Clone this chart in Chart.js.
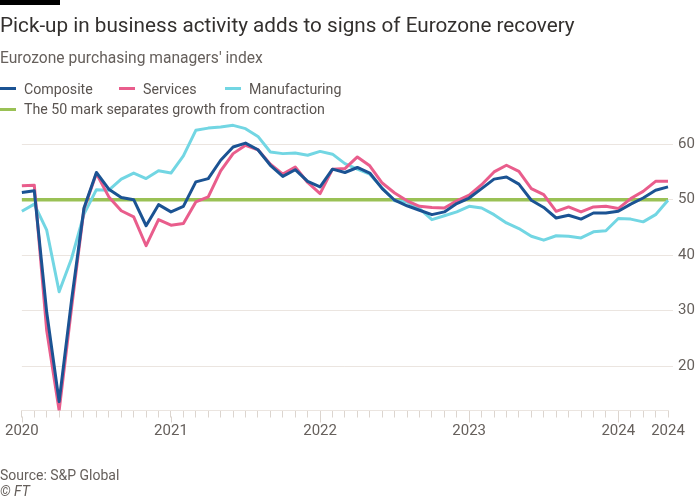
<!DOCTYPE html>
<html>
<head>
<meta charset="utf-8">
<script src="https://cdn.jsdelivr.net/npm/chart.js@4"></script>
<style>
  html, body { margin: 0; padding: 0; background: #fff; }
  body { width: 700px; height: 500px; position: relative; overflow: hidden; font-family: Roboto, "Noto Sans", sans-serif; }
  #bar { position: absolute; left: 0; top: 0; width: 60px; height: 4.5px; background: #000; }
  .t { position: absolute; white-space: nowrap; z-index: 2; }
  #title { left: 0; top: 12.5px; font-size: 20.7px; line-height: 24px; color: #33302e; }
  #subtitle { left: 0; top: 48.5px; font-size: 15.6px; line-height: 19px; color: #66605c; }
  .leg { font-size: 14.2px; line-height: 18px; color: #5a5450; }
  .mk { position: absolute; width: 16px; height: 3px; z-index: 2; }
  #source { left: 0; top: 465.5px; font-size: 14px; line-height: 18px; color: #66605c; }
  #ft { left: 0; top: 481.5px; font-size: 14px; line-height: 18px; color: #66605c; font-style: italic; }
  canvas { position: absolute; left: 0; top: 0; z-index: 1; }
</style>
</head>
<body>
<div id="bar"></div>
<div class="t" id="title">Pick-up in business activity adds to signs of Eurozone recovery</div>
<div class="t" id="subtitle">Eurozone purchasing managers' index</div>

<div class="mk" style="left:0;top:87px;background:#1b5393"></div>
<div class="t leg" style="left:24px;top:79.5px">Composite</div>
<div class="mk" style="left:119px;top:87px;background:#e95d8c"></div>
<div class="t leg" style="left:143px;top:79.5px">Services</div>
<div class="mk" style="left:225px;top:87px;background:#72d6e3"></div>
<div class="t leg" style="left:249px;top:79.5px">Manufacturing</div>
<div class="mk" style="left:0;top:107.5px;background:#9ac155"></div>
<div class="t leg" style="left:24px;top:99.5px">The 50 mark separates growth from contraction</div>

<div class="t" id="source">Source: S&amp;P Global</div>
<div class="t" id="ft">© FT</div>

<canvas id="c" width="700" height="500"></canvas>

<script>
const months = [
  "Jan 2020","Feb 2020","Mar 2020","Apr 2020","May 2020","Jun 2020","Jul 2020","Aug 2020","Sep 2020","Oct 2020","Nov 2020","Dec 2020",
  "Jan 2021","Feb 2021","Mar 2021","Apr 2021","May 2021","Jun 2021","Jul 2021","Aug 2021","Sep 2021","Oct 2021","Nov 2021","Dec 2021",
  "Jan 2022","Feb 2022","Mar 2022","Apr 2022","May 2022","Jun 2022","Jul 2022","Aug 2022","Sep 2022","Oct 2022","Nov 2022","Dec 2022",
  "Jan 2023","Feb 2023","Mar 2023","Apr 2023","May 2023","Jun 2023","Jul 2023","Aug 2023","Sep 2023","Oct 2023","Nov 2023","Dec 2023",
  "Jan 2024","Feb 2024","Mar 2024","Apr 2024","May 2024"
];

const composite = [
  51.3, 51.6, 29.7, 13.6, 31.9, 48.5, 54.9, 51.9, 50.4, 50.0, 45.3, 49.1,
  47.8, 48.8, 53.2, 53.8, 57.1, 59.5, 60.2, 59.0, 56.2, 54.2, 55.4, 53.3,
  52.3, 55.5, 54.9, 55.8, 54.8, 52.0, 49.9, 48.9, 48.1, 47.3, 47.8, 49.3,
  50.3, 52.0, 53.7, 54.1, 52.8, 49.9, 48.6, 46.7, 47.2, 46.5, 47.6, 47.6,
  47.9, 49.2, 50.3, 51.7, 52.3
];

const services = [
  52.5, 52.6, 26.4, 12.0, 30.5, 48.3, 54.7, 50.5, 48.0, 46.9, 41.7, 46.4,
  45.4, 45.7, 49.6, 50.5, 55.2, 58.3, 59.8, 59.0, 56.4, 54.6, 55.9, 53.1,
  51.1, 55.5, 55.6, 57.7, 56.1, 53.0, 51.2, 49.8, 48.8, 48.6, 48.5, 49.8,
  50.8, 52.7, 55.0, 56.2, 55.1, 52.0, 50.9, 47.9, 48.7, 47.8, 48.7, 48.8,
  48.4, 50.2, 51.5, 53.3, 53.3
];

const manufacturing = [
  47.9, 49.2, 44.5, 33.4, 39.4, 47.4, 51.8, 51.7, 53.7, 54.8, 53.8, 55.2,
  54.8, 57.9, 62.5, 62.9, 63.1, 63.4, 62.8, 61.4, 58.6, 58.3, 58.4, 58.0,
  58.7, 58.2, 56.5, 55.5, 54.6, 52.1, 49.8, 49.6, 48.4, 46.4, 47.1, 47.8,
  48.8, 48.5, 47.3, 45.8, 44.8, 43.4, 42.7, 43.5, 43.4, 43.1, 44.2, 44.4,
  46.6, 46.5, 46.0, 47.3, 49.9
];

const threshold = 50;
const yTicks = [20, 30, 40, 50, 60];
const xTickMonths = ["Jan 2020", "Jan 2021", "Jan 2022", "Jan 2023", "Jan 2024", "May 2024"];
const xTickLabels = ["2020", "2021", "2022", "2023", "2024", "2024"];
const yearMonths = ["Jan 2020", "Jan 2021", "Jan 2022", "Jan 2023", "Jan 2024"];

const gridColor = "#ebe5e0";
const tickCol = "#dcd5cf";
const textCol = "#66605c";

const majorTicks = {
  id: "majorTicks",
  afterDatasetsDraw(chart) {
    const x = chart.scales.x;
    const ctx = chart.ctx;
    const b = chart.chartArea.bottom;
    ctx.save();
    ctx.strokeStyle = tickCol;
    ctx.lineWidth = 1;
    yearMonths.forEach(m => {
      const px = Math.round(x.getPixelForValue(months.indexOf(m))) + 0.5;
      ctx.beginPath();
      ctx.moveTo(px, b + 6);
      ctx.lineTo(px, b + 12);
      ctx.stroke();
    });
    ctx.restore();
  }
};

new Chart(document.getElementById("c"), {
  type: "line",
  data: {
    labels: months,
    datasets: [
      { label: "Composite", data: composite, borderColor: "#1b5393", borderWidth: 3 },
      { label: "Services", data: services, borderColor: "#e95d8c", borderWidth: 3 },
      { label: "Manufacturing", data: manufacturing, borderColor: "#72d6e3", borderWidth: 3 },
      { label: "The 50 mark separates growth from contraction",
        data: [{ x: months[0], y: threshold }, { x: months[months.length - 1], y: threshold }],
        borderColor: "#9ac155", borderWidth: 3.5 }
    ]
  },
  options: {
    responsive: false,
    animation: false,
    devicePixelRatio: 1,
    layout: { padding: { left: 20, top: 122, right: 0, bottom: 54.5 } },
    elements: {
      point: { radius: 0 },
      line: { tension: 0, borderJoinStyle: "round", borderCapStyle: "butt", fill: false }
    },
    plugins: { legend: { display: false }, tooltip: { enabled: false } },
    scales: {
      x: {
        type: "category",
        offset: false,
        afterFit: s => { s.height = 35; },
        grid: { drawOnChartArea: false, drawTicks: true, tickLength: 7, color: tickCol },
        border: { display: true, color: gridColor, width: 1 },
        ticks: {
          autoSkip: false,
          maxRotation: 0,
          padding: 5,
          color: textCol,
          font: { family: "Roboto", size: 15 },
          callback: function (val, idx) {
            const m = months[idx];
            const k = xTickMonths.indexOf(m);
            return k >= 0 ? xTickLabels[k] : "";
          }
        }
      },
      y: {
        position: "right",
        min: 12,
        max: 64,
        afterFit: s => { s.width = 32; },
        afterBuildTicks: s => { s.ticks = yTicks.map(v => ({ value: v })); },
        grid: { color: gridColor, tickLength: 5, drawTicks: true },
        border: { display: false },
        ticks: {
          padding: 5,
          color: textCol,
          font: { family: "Roboto", size: 15 }
        }
      }
    }
  },
  plugins: [majorTicks]
});
</script>
</body>
</html>
